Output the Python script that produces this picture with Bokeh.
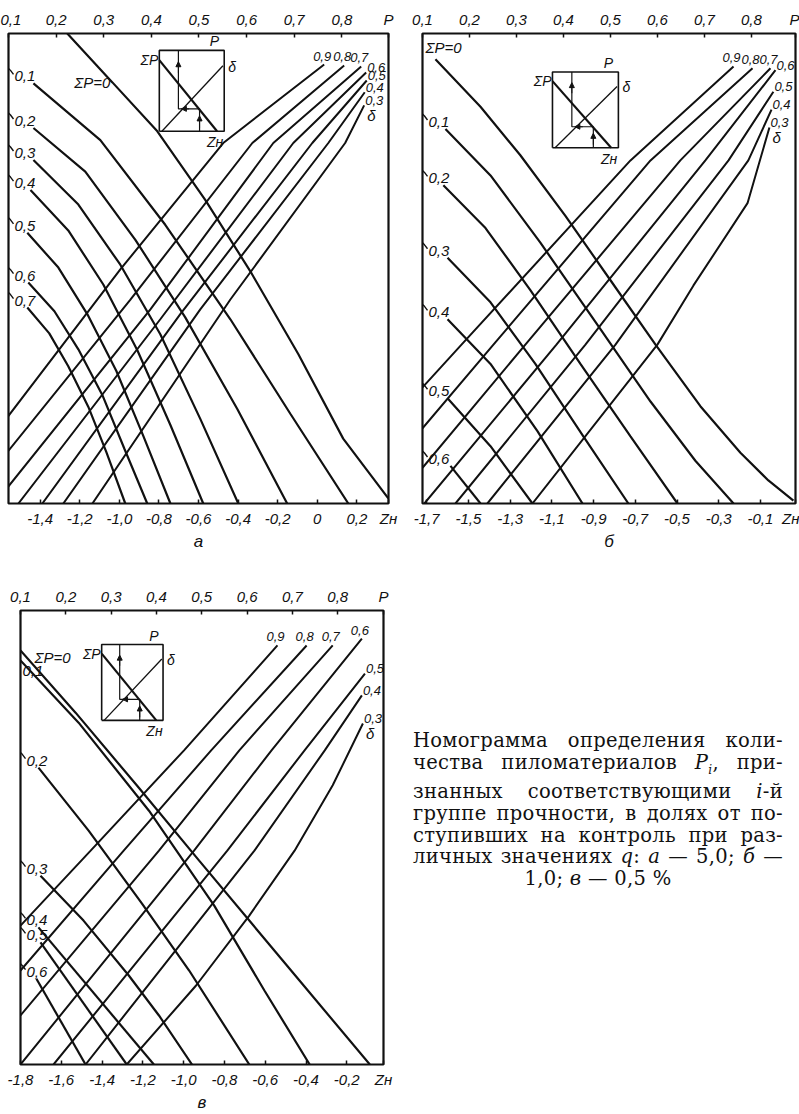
from bokeh.plotting import figure
from bokeh.models import Range1d, LinearAxis, FixedTicker, Div, Arrow, NormalHead
from bokeh.layouts import row, column
from bokeh.embed import file_html
from bokeh.resources import INLINE
from bokeh.core.properties import value

# ---------------------------------------------------------------- common scales
P_TICKS = [0.1, 0.2, 0.3, 0.4, 0.5, 0.6, 0.7, 0.8]
P_TICK_LABELS = ["0,1", "0,2", "0,3", "0,4", "0,5", "0,6", "0,7", "0,8"]
DELTA_LABELS = ["0,9", "0,8", "0,7", "0,6", "0,5", "0,4", "0,3"]

# ---------------------------------------------------------------- panel а, q = 5,0 %
A_Z_RANGE = (-1.56, 0.36)
A_P_RANGE = (0.1, 0.898)
A_Z_TICKS = [-1.4, -1.2, -1.0, -0.8, -0.6, -0.4, -0.2, 0.0, 0.2]
A_Z_TICK_LABELS = ["-1,4", "-1,2", "-1,0", "-0,8", "-0,6", "-0,4", "-0,2", "0", "0,2"]
A_SUM_LABELS = ["ΣP=0", "0,1", "0,2", "0,3", "0,4", "0,5", "0,6", "0,7"]
A_SUM_Z = [
    [-1.263, -1.035, -0.808, -0.566, -0.338, -0.096, 0.131, 0.359],
    [-1.434, -1.096, -0.768, -0.439, -0.136, 0.157],
    [-1.434, -1.172, -0.919, -0.667, -0.404, -0.152],
    [-1.434, -1.207, -0.995, -0.793, -0.591, -0.399],
    [-1.449, -1.258, -1.081, -0.909, -0.742, -0.576],
    [-1.465, -1.308, -1.162, -1.015, -0.879, -0.742],
    [-1.460, -1.328, -1.207, -1.086, -0.975, -0.859],
    [-1.465, -1.354, -1.258, -1.157, -1.066, -0.970],
]
A_SUM_Y = [
    [100.0, 89.6, 79.2, 64.6, 49.4, 31.8, 13.8, 1.1],
    [89.4, 77.3, 59.3, 39.2, 19.1, 0.0],
    [79.9, 70.6, 56.1, 39.6, 20.1, 0.0],
    [73.1, 63.6, 50.8, 36.0, 18.0, 0.0],
    [66.7, 58.1, 46.6, 32.6, 16.7, 0.0],
    [57.6, 50.2, 40.3, 28.2, 14.4, 0.0],
    [47.0, 40.9, 32.8, 23.1, 11.7, 0.0],
    [41.7, 36.2, 29.2, 20.6, 11.0, 0.0],
]
A_DELTA_Z = [
    [-1.561, -0.995, -0.475, 0.035],
    [-1.561, -0.944, -0.328, 0.136],
    [-1.561, -0.843, -0.222, 0.222],
    [-1.510, -0.793, -0.121, 0.247],
    [-1.389, -0.692, -0.025, 0.250],
    [-1.283, -0.591, 0.056, 0.240],
    [-1.136, -0.439, 0.141, 0.237],
]
A_DELTA_Y = [
    [18.6, 49.8, 76.7, 93.4],
    [11.2, 43.4, 76.7, 93.2],
    [3.6, 41.3, 76.7, 93.0],
    [0.0, 39.2, 76.7, 91.7],
    [0.0, 40.3, 76.7, 90.0],
    [0.0, 41.3, 76.7, 87.5],
    [0.0, 43.4, 76.7, 84.7],
]
A_INSET = (-0.798, -0.470, 79.2, 96.4)

# ---------------------------------------------------------------- panel б, q = 1,0 %
B_Z_RANGE = (-1.72, 0.068)
B_P_RANGE = (0.1, 0.894)
B_Z_TICKS = [-1.7, -1.5, -1.3, -1.1, -0.9, -0.7, -0.5, -0.3, -0.1]
B_Z_TICK_LABELS = ["-1,7", "-1,5", "-1,3", "-1,1", "-0,9", "-0,7", "-0,5", "-0,3", "-0,1"]
B_SUM_LABELS = ["ΣP=0", "0,1", "0,2", "0,3", "0,4", "0,5", "0,6"]
B_SUM_Z = [
    [-1.658, -1.442, -1.251, -1.035, -0.819, -0.603, -0.388, -0.196, -0.062, 0.058],
    [-1.610, -1.394, -1.155, -0.867, -0.627, -0.412, -0.229],
    [-1.620, -1.418, -1.203, -0.963, -0.723, -0.498],
    [-1.600, -1.394, -1.179, -0.949, -0.733],
    [-1.600, -1.394, -1.169, -0.953],
    [-1.600, -1.394, -1.193],
    [-1.586, -1.442],
]
B_SUM_Y = [
    [94.5, 84.4, 74.1, 61.2, 47.5, 33.8, 20.7, 10.8, 4.9, 0.6],
    [79.7, 69.8, 55.5, 37.1, 21.7, 9.1, 0.0],
    [67.7, 58.6, 45.4, 29.7, 14.3, 0.0],
    [52.3, 42.8, 29.7, 14.3, 0.0],
    [39.2, 29.7, 15.4, 0.0],
    [22.4, 12.2, 0.0],
    [8.0, 0.0],
]
B_DELTA_Z = [
    [-1.720, -1.533, -0.723, -0.229],
    [-1.720, -1.380, -0.627, -0.138],
    [-1.720, -1.227, -0.484, -0.052],
    [-1.711, -1.078, -0.364, -0.028],
    [-1.562, -0.939, -0.253, -0.038],
    [-1.409, -0.795, -0.158, -0.047],
    [-1.193, -0.594, -0.421, -0.162, -0.057],
]
B_DELTA_Y = [
    [24.7, 33.8, 73.0, 93.0],
    [16.0, 33.8, 73.0, 92.6],
    [7.6, 33.8, 73.0, 92.6],
    [0.0, 33.8, 73.0, 92.2],
    [0.0, 33.8, 73.0, 87.6],
    [0.0, 33.8, 73.0, 83.8],
    [0.0, 33.8, 46.4, 63.9, 80.0],
]
B_INSET = (-1.097, -0.781, 75.7, 91.8)

# ---------------------------------------------------------------- panel в, q = 0,5 %
C_Z_RANGE = (-1.8, -0.02)
C_P_RANGE = (0.1, 0.901)
C_Z_TICKS = [-1.8, -1.6, -1.4, -1.2, -1.0, -0.8, -0.6, -0.4, -0.2]
C_Z_TICK_LABELS = ["-1,8", "-1,6", "-1,4", "-1,2", "-1,0", "-0,8", "-0,6", "-0,4", "-0,2"]
C_SUM_LABELS = ["ΣP=0", "0,1", "0,2", "0,3", "0,4", "0,5", "0,6"]
C_SUM_Z = [
    [-1.80, -1.530, -1.230, -0.924, -0.432, -0.087],
    [-1.80, -1.515, -1.170, -0.850, -0.604, -0.382],
    [-1.712, -1.466, -1.205, -0.973, -0.678],
    [-1.702, -1.491, -1.269, -1.121, -0.959],
    [-1.712, -1.146],
    [-1.702, -1.279],
    [-1.722, -1.481],
]
C_SUM_Y = [
    [91.2, 77.5, 61.5, 44.9, 18.5, 0.0],
    [89.0, 75.3, 55.9, 35.0, 16.3, 0.0],
    [65.4, 51.5, 35.5, 20.7, 0.0],
    [41.6, 31.7, 19.6, 10.8, 0.0],
    [30.2, 0.0],
    [26.9, 0.0],
    [18.9, 0.0],
]
C_DELTA_Z = [
    [-1.80, -1.456, -0.998, -0.540],
    [-1.80, -1.294, -0.865, -0.397],
    [-1.80, -1.121, -0.727, -0.269],
    [-1.80, -0.949, -0.569, -0.126],
    [-1.638, -0.786, -0.407, -0.111],
    [-1.481, -0.653, -0.308, -0.126],
    [-1.279, -0.939, -0.678, -0.456, -0.269, -0.121],
]
C_DELTA_Y = [
    [30.6, 47.1, 69.2, 92.3],
    [20.7, 47.1, 69.2, 92.3],
    [10.8, 47.1, 69.2, 92.3],
    [0.0, 47.1, 69.2, 93.8],
    [0.0, 47.1, 69.2, 86.1],
    [0.0, 47.1, 69.2, 81.3],
    [0.0, 17.4, 32.8, 47.1, 61.5, 75.1],
]
C_INSET = (-1.402, -1.101, 75.8, 92.5)

# ---------------------------------------------------------------- inset key, unit square
KEY_BOX_U = [0, 1, 1, 0, 0]
KEY_BOX_V = [0, 0, 1, 1, 0]
KEY_SUM_U = [0.0, 0.89]
KEY_SUM_V = [0.88, 0.0]
KEY_DELTA_U = [0.04, 0.98]
KEY_DELTA_V = [0.0, 0.81]
KEY_PATH_U = [0.294, 0.294, 0.62, 0.62]
KEY_PATH_V = [1.0, 0.277, 0.277, 0.0]

CAPTION_LINES = [
    "Номограмма  определения  коли-",
    "чества  пиломатериалов <i>P</i><sub style='font-size:12px'><i>i</i></sub>, при-",
    "знанных  соответствующими  <i>i</i>-й",
    "группе прочности, в долях от по-",
    "ступивших на контроль при раз-",
    "личных значениях <i>q</i>: <i>а</i> — 5,0; <i>б</i> —",
]
CAPTION_TAIL = "1,0; <i>в</i> — 0,5 %"

LABEL_FONT = "Liberation Sans"
INK = "#111111"


def panel(width, height, borders, z_range, p_range, z_ticks, z_tick_labels,
          sum_labels, sum_z, sum_y, delta_z, delta_y, inset, letter,
          sum_nudge, delta_above, first_on_curve=False):
    top, right, bottom, left = borders
    frame_w = width - left - right
    frame_h = height - top - bottom
    px_z = (z_range[1] - z_range[0]) / frame_w   # one screen pixel along Zн
    px_y = 100.0 / frame_h                       # one screen pixel vertically

    p = figure(width=width, height=height, x_range=Range1d(*z_range),
               y_range=Range1d(0, 100), output_backend="svg",
               toolbar_location=None, x_axis_location=None, y_axis_location=None,
               min_border_top=top, min_border_right=right,
               min_border_bottom=bottom, min_border_left=left)
    p.grid.grid_line_color = None
    p.outline_line_color = INK
    p.outline_line_width = 2.2
    p.background_fill_color = "white"
    p.border_fill_color = "white"
    p.extra_x_ranges = {"P": Range1d(*p_range)}

    zt = list(z_ticks) + [z_range[1]]
    bottom_axis = LinearAxis(ticker=FixedTicker(ticks=zt))
    bottom_axis.major_label_overrides = dict(zip(zt, list(z_tick_labels) + ["Zн"]))
    pt = list(P_TICKS) + [p_range[1]]
    top_axis = LinearAxis(x_range_name="P", ticker=FixedTicker(ticks=pt))
    top_axis.major_label_overrides = dict(zip(pt, P_TICK_LABELS + ["P"]))
    for ax in (bottom_axis, top_axis):
        ax.axis_line_color = None
        ax.major_tick_in = 4
        ax.major_tick_out = 0
        ax.major_tick_line_color = INK
        ax.major_tick_line_width = 1.5
        ax.minor_tick_line_color = None
        ax.major_label_text_font = LABEL_FONT
        ax.major_label_text_font_style = "italic"
        ax.major_label_text_font_size = "15px"
        ax.major_label_text_color = INK
        ax.major_label_standoff = 6
    bottom_axis.axis_label = letter
    bottom_axis.axis_label_text_font = LABEL_FONT
    bottom_axis.axis_label_text_font_style = "italic"
    bottom_axis.axis_label_text_font_size = "17px"
    bottom_axis.axis_label_text_color = INK
    bottom_axis.axis_label_standoff = 2
    p.add_layout(bottom_axis, "below")
    p.add_layout(top_axis, "above")

    lab = dict(text_font=value(LABEL_FONT), text_font_style="italic",
               text_font_size="15px", text_color=INK)
    small = dict(lab, text_font_size="13px")

    # ΣP family, falling from the left edge
    p.multi_line(xs=sum_z, ys=sum_y, line_color=INK, line_width=2.2)
    hook_x, hook_y = [], []
    for k, (txt, zs, ys) in enumerate(zip(sum_labels, sum_z, sum_y)):
        dx, dy = sum_nudge.get(k, (0, 0))
        if k == 0 and first_on_curve:
            # the zero curve leaves through the top edge: label sits beside it
            p.text(x=[zs[1]], y=[ys[1]], text=[txt], text_align="right",
                   text_baseline="middle", x_offset=-2 + dx, y_offset=dy, **lab)
            continue
        p.text(x=[z_range[0]], y=[ys[0]], text=[txt], text_align="left",
               text_baseline="middle", x_offset=6 + dx, y_offset=-7 + dy, **lab)
        if k not in sum_nudge:
            # small hooked leader from the edge to the label
            hook_x.append([z_range[0], z_range[0] + 2 * px_z, z_range[0] + 5 * px_z])
            hook_y.append([ys[0] + 15 * px_y, ys[0] + 13 * px_y, ys[0] + 9 * px_y])
    p.multi_line(xs=hook_x, ys=hook_y, line_color=INK, line_width=1.4)

    # δ family, rising to the top right
    p.multi_line(xs=delta_z, ys=delta_y, line_color=INK, line_width=2.0)
    ex = [zs[-1] for zs in delta_z]
    ey = [ys[-1] for ys in delta_y]
    n = delta_above
    p.text(x=ex[:n], y=ey[:n], text=DELTA_LABELS[:n], text_align="center",
           text_baseline="bottom", x_offset=-2, y_offset=-4, **small)
    p.text(x=ex[n:], y=ey[n:], text=DELTA_LABELS[n:], text_align="left",
           text_baseline="middle", x_offset=1, y_offset=-5, **small)
    p.text(x=[ex[-1]], y=[ey[-1]], text=["δ"], text_align="left",
           text_baseline="middle", x_offset=3, y_offset=10, **lab)

    # key diagram
    z0, z1, y0, y1 = inset

    def ku(us):
        return [z0 + u * (z1 - z0) for u in us]

    def kv(vs):
        return [y0 + v * (y1 - y0) for v in vs]

    p.line(ku(KEY_BOX_U), kv(KEY_BOX_V), line_color=INK, line_width=1.6)
    p.line(ku(KEY_SUM_U), kv(KEY_SUM_V), line_color=INK, line_width=2.2)
    p.line(ku(KEY_DELTA_U), kv(KEY_DELTA_V), line_color=INK, line_width=1.3)
    p.line(ku(KEY_PATH_U), kv(KEY_PATH_V), line_color=INK, line_width=1.2)
    for (ua, va), (ub, vb) in [((0.294, 0.72), (0.294, 0.86)),
                               ((0.46, 0.277), (0.34, 0.277)),
                               ((0.62, 0.04), (0.62, 0.19))]:
        p.add_layout(Arrow(end=NormalHead(size=5, fill_color=INK, line_color=INK),
                           x_start=ku([ua])[0], y_start=kv([va])[0],
                           x_end=ku([ub])[0], y_end=kv([vb])[0],
                           line_color=INK, line_width=1))
    kfont = dict(lab, text_font_size="14px")
    p.text(x=ku([0.0]), y=kv([0.88]), text=["ΣP"], text_align="right",
           text_baseline="middle", x_offset=-1, **kfont)
    p.text(x=ku([0.85]), y=kv([1.0]), text=["P"], text_align="center",
           text_baseline="bottom", y_offset=-1, **kfont)
    p.text(x=ku([1.0]), y=kv([0.80]), text=["δ"], text_align="left",
           text_baseline="middle", x_offset=4, **kfont)
    p.text(x=ku([0.86]), y=kv([0.0]), text=["Zн"], text_align="center",
           text_baseline="top", y_offset=3, **kfont)
    return p


pa = panel(402, 560, (33, 14, 55, 8), A_Z_RANGE, A_P_RANGE, A_Z_TICKS, A_Z_TICK_LABELS,
           A_SUM_LABELS, A_SUM_Z, A_SUM_Y, A_DELTA_Z, A_DELTA_Y, A_INSET, "а",
           sum_nudge={}, delta_above=3, first_on_curve=True)
pb = panel(397, 560, (29, 4, 57, 20), B_Z_RANGE, B_P_RANGE, B_Z_TICKS, B_Z_TICK_LABELS,
           B_SUM_LABELS, B_SUM_Z, B_SUM_Y, B_DELTA_Z, B_DELTA_Y, B_INSET, "б",
           sum_nudge={0: (-3, -5)}, delta_above=3)
pc = panel(397, 554, (50, 14, 50, 20), C_Z_RANGE, C_P_RANGE, C_Z_TICKS, C_Z_TICK_LABELS,
           C_SUM_LABELS, C_SUM_Z, C_SUM_Y, C_DELTA_Z, C_DELTA_Y, C_INSET, "в",
           sum_nudge={0: (8, 14), 1: (-4, 18)}, delta_above=4)

line_style = "text-align:justify;text-align-last:justify;"
html = "".join(f"<div style='{line_style}'>{t}</div>" for t in CAPTION_LINES)
html += f"<div style='text-align:center'>{CAPTION_TAIL}</div>"
caption = Div(text=f"<div style=\"width:370px;font-family:'DejaVu Serif',serif;"
                   f"font-size:19.5px;letter-spacing:0.3px;line-height:21.7px;"
                   f"color:#111\">{html}</div>",
              width=372, margin=(170, 0, 0, 16))

page = column(row(pa, pb), row(pc, caption))
open("out.html", "w").write(file_html(page, INLINE))
